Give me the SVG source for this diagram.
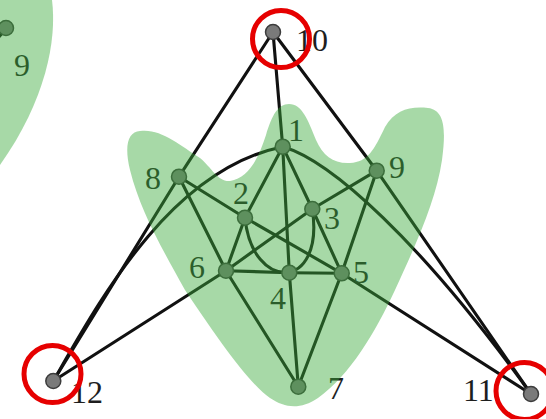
<svg xmlns="http://www.w3.org/2000/svg" width="546" height="419" viewBox="0 0 546 419">
<style>
.e{stroke:#111;stroke-width:3.1;fill:none;stroke-linecap:round}
.n{fill:#7a7a7a;stroke:#3c3c3c;stroke-width:1.5}
.t{font-family:"Liberation Serif","Times New Roman",serif;font-size:32px;fill:#1e1e1e}
.blob{fill:#3caa3c;fill-opacity:0.45}
.ring{fill:none;stroke:#e60000;stroke-width:5}
</style>
<rect width="546" height="419" fill="#fff"/>
<g id="connectors">
<line class="e" x1="5" y1="30" x2="-2" y2="38"/>
<line class="e" x1="273" y1="32" x2="282.7" y2="146.7"/>
<line class="e" x1="273" y1="32" x2="179" y2="176.7"/>
<line class="e" x1="273" y1="32" x2="376.7" y2="170.7"/>
<line class="e" x1="53.3" y1="381" x2="179" y2="176.7"/>
<path class="e" d="M53.3,381 C100,300 170,170 282.7,146.7"/>
<path class="e" d="M282.7,146.7 C330,160 420,240 531,394"/>
<line class="e" x1="53.3" y1="381" x2="226" y2="270.7"/>
<line class="e" x1="376.7" y1="170.7" x2="531" y2="394"/>
<line class="e" x1="341.7" y1="273.3" x2="531" y2="394"/>
<line class="e" x1="179" y1="176.7" x2="245" y2="217.7"/>
<line class="e" x1="245" y1="217.7" x2="341.7" y2="273.3"/>
<line class="e" x1="179" y1="176.7" x2="226" y2="270.7"/>
<line class="e" x1="282.7" y1="146.7" x2="245" y2="217.7"/>
<line class="e" x1="282.7" y1="146.7" x2="289.3" y2="272.7"/>
<line class="e" x1="282.7" y1="146.7" x2="312.3" y2="209"/>
<line class="e" x1="245" y1="217.7" x2="226" y2="270.7"/>
<line class="e" x1="312.3" y1="209" x2="226" y2="270.7"/>
<line class="e" x1="312.3" y1="209" x2="376.7" y2="170.7"/>
<line class="e" x1="312.3" y1="209" x2="341.7" y2="273.3"/>
<line class="e" x1="376.7" y1="170.7" x2="341.7" y2="273.3"/>
<path class="e" d="M245,217.7 C252,292 325,292 312.3,209"/>
<line class="e" x1="226" y1="270.7" x2="289.3" y2="272.7"/>
<line class="e" x1="289.3" y1="272.7" x2="341.7" y2="273.3"/>
<line class="e" x1="226" y1="270.7" x2="298.3" y2="386.7"/>
<line class="e" x1="289.3" y1="272.7" x2="298.3" y2="386.7"/>
<line class="e" x1="341.7" y1="273.3" x2="298.3" y2="386.7"/>
</g>
<g id="node-9-left"><circle class="n" cx="6" cy="28" r="7.5"/><text class="t" x="14" y="76">9</text></g>
<g id="node-10"><circle class="n" cx="273" cy="32" r="7.5"/><text class="t" x="296" y="51">10</text></g>
<g id="node-1"><circle class="n" cx="282.7" cy="146.7" r="7.5"/><text class="t" x="288" y="141">1</text></g>
<g id="node-8"><circle class="n" cx="179" cy="176.7" r="7.5"/><text class="t" x="145" y="189">8</text></g>
<g id="node-9"><circle class="n" cx="376.7" cy="170.7" r="7.5"/><text class="t" x="389" y="178">9</text></g>
<g id="node-2"><circle class="n" cx="245" cy="217.7" r="7.5"/><text class="t" x="233" y="204">2</text></g>
<g id="node-3"><circle class="n" cx="312.3" cy="209" r="7.5"/><text class="t" x="324" y="229">3</text></g>
<g id="node-6"><circle class="n" cx="226" cy="270.7" r="7.5"/><text class="t" x="189" y="278">6</text></g>
<g id="node-4"><circle class="n" cx="289.3" cy="272.7" r="7.5"/><text class="t" x="270" y="309">4</text></g>
<g id="node-5"><circle class="n" cx="341.7" cy="273.3" r="7.5"/><text class="t" x="353" y="283">5</text></g>
<g id="node-7"><circle class="n" cx="298.3" cy="386.7" r="7.5"/><text class="t" x="328" y="399">7</text></g>
<g id="node-12"><circle class="n" cx="53.3" cy="381" r="7.5"/><text class="t" x="71" y="403">12</text></g>
<g id="node-11"><circle class="n" cx="531" cy="394" r="7.5"/><text class="t" x="463" y="401">11</text></g>
<g id="regions">
<path class="blob" d="M0,0 L52,0 C57,40 46,100 0,165 Z"/>
<path class="blob" d="M140,131 C160,128 180,145 200,158 C212,168 218,182 230,181 C248,178 258,160 266,135 C272,115 278,104 289,104 C302,104 308,120 316,140 C323,156 334,164 350,163 C368,162 374,150 385,127 C395,110 410,106 428,108 C445,110 446,130 442,160 C436,200 418,240 395,290 C375,333 350,375 318,398 C300,410 285,408 270,398 C250,385 215,335 185,290 C160,245 140,210 130,170 C124,145 128,132 140,131 Z"/>
</g>
<g id="highlights">
<circle class="ring" cx="281" cy="39" r="28.5"/>
<circle class="ring" cx="52.5" cy="374" r="28.5"/>
<circle class="ring" cx="524.5" cy="391" r="28.5"/>
</g>
</svg>
